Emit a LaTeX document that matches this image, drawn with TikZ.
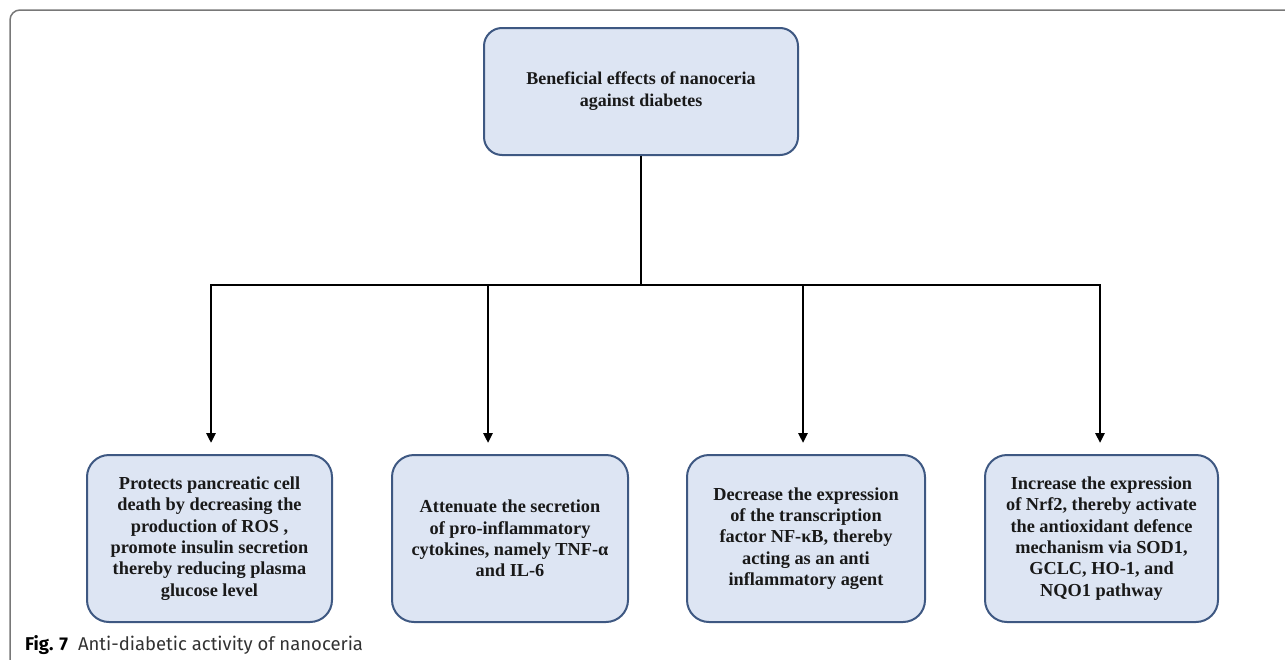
\documentclass[tikz,border=0pt]{standalone}
\usepackage{fontspec}
\setmainfont{Liberation Serif}
\newfontfamily\capfont{Fira Sans}
\usetikzlibrary{arrows.meta}
\definecolor{boxfill}{RGB}{221,229,243}
\definecolor{boxline}{RGB}{62,88,130}
\definecolor{framegray}{RGB}{120,120,120}
\definecolor{captext}{RGB}{50,50,50}
\begin{document}
\begin{tikzpicture}[x=1pt,y=-1pt,
  box/.style={draw=boxline, line width=2pt, fill=boxfill, rounded corners=22pt, align=center,
    font=\fontsize{18.3}{21.3}\selectfont\bfseries, text=black!90, inner sep=0pt},
  conn/.style={line width=2.8pt, black},
  arr/.style={conn, -{Triangle[length=10pt,width=9pt]}}]
\useasboundingbox (0,0) rectangle (1285,659);
\draw[framegray, line width=1.5pt, rounded corners=10pt] (10,662) -- (10,10) -- (1290,10);
\node[box, minimum width=314pt, minimum height=127pt, rounded corners=18pt,
  font=\fontsize{18}{22}\selectfont\bfseries] (top) at (641,91.5)
  {Beneficial effects of nanoceria\\against diabetes};
\node[box, minimum width=245pt, minimum height=167pt] (b1) at (209.5,538.5)
  {Protects pancreatic cell\\death by decreasing the\\production of ROS ,\\promote insulin secretion\\thereby reducing plasma\\glucose level};
\node[box, minimum width=236pt, minimum height=167pt] (b2) at (510,538.5)
  {Attenuate the secretion\\of pro-inflammatory\\cytokines, namely TNF-α\\and IL-6};
\node[box, minimum width=238pt, minimum height=167pt] (b3) at (806,538.5)
  {Decrease the expression\\of the transcription\\factor NF-κB, thereby\\acting as an anti\\inflammatory agent};
\node[box, minimum width=233pt, minimum height=167pt] (b4) at (1101.5,538.5)
  {Increase the expression\\of Nrf2, thereby activate\\the antioxidant defence\\mechanism via SOD1,\\GCLC, HO-1, and\\NQO1 pathway};
\coordinate (hub) at (641,285);
\coordinate (t1) at (211,443);
\coordinate (t2) at (488,443);
\coordinate (t3) at (803,443);
\coordinate (t4) at (1100,443);
\draw[conn] (top.south) -- (hub);
\draw[arr] (hub) -| (t1);
\draw[arr] (hub) -| (t2);
\draw[arr] (hub) -| (t3);
\draw[arr] (hub) -| (t4);
\node[anchor=base west, inner sep=0pt, font=\capfont\fontsize{18.5}{20}\selectfont] (cap) at (25,650)
  {\textbf{Fig. 7}\hspace{10pt}{\color{captext}Anti-diabetic activity of nanoceria}};
\end{tikzpicture}
\end{document}
